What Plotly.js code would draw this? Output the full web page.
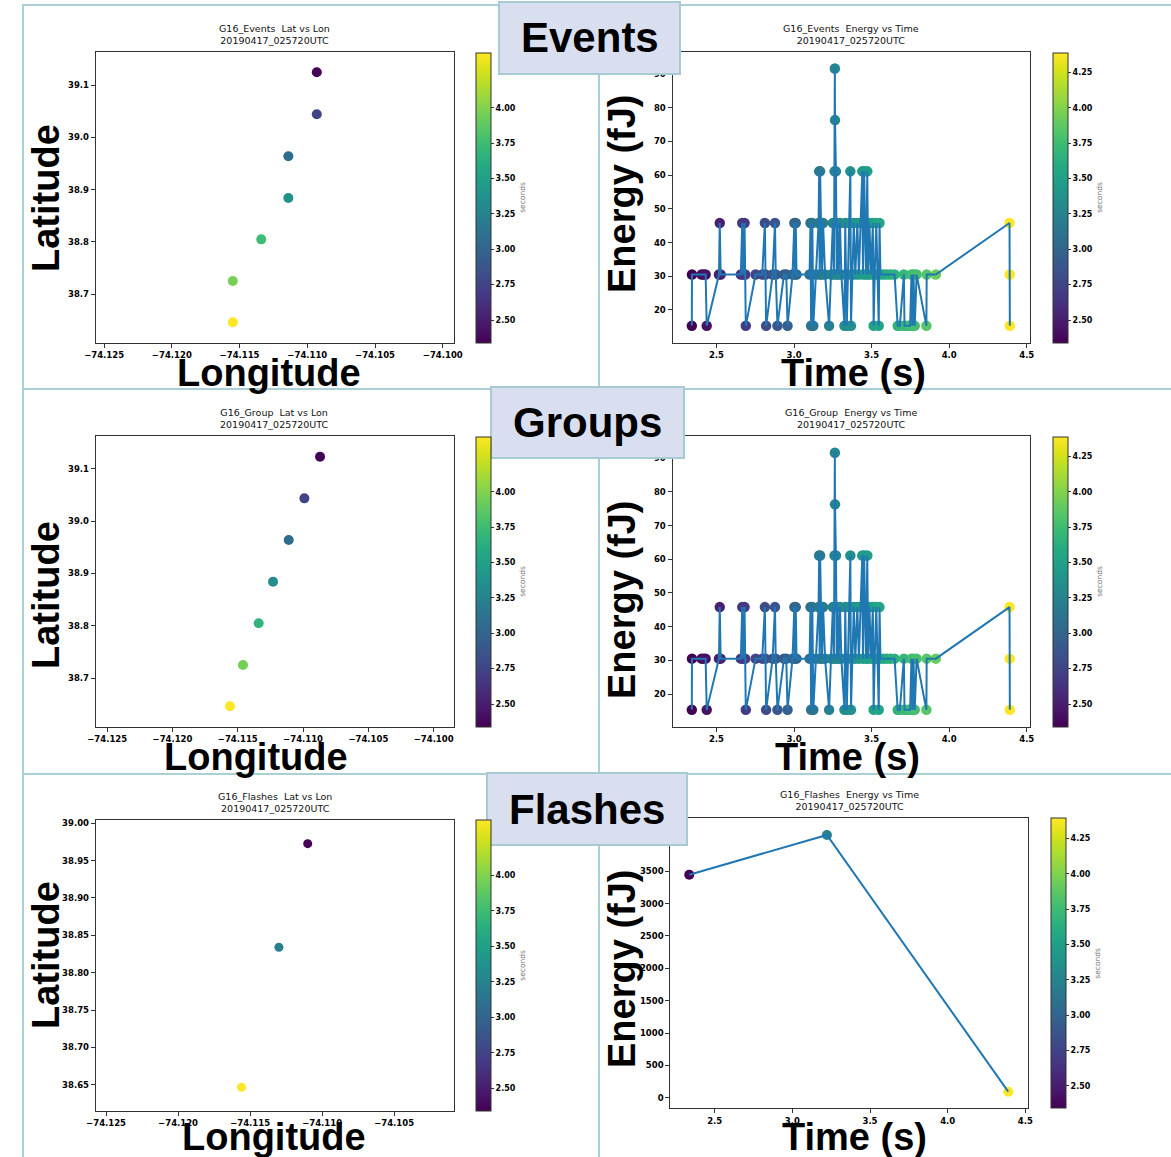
<!DOCTYPE html>
<html>
<head>
<meta charset="utf-8">
<script src="https://cdn.plot.ly/plotly-3.0.1.min.js"></script>
<style>html,body{margin:0;padding:0;background:#fff;}#chart{width:1171px;height:1157px;}</style>
</head>
<body>
<div id="chart"></div>
<script>
// ---------------- DATA ----------------
const stamp = "20190417_025720UTC";

// Events: latitude / longitude (colour = time in seconds)
const eventLon = [-74.1093, -74.1093, -74.1114, -74.1114, -74.1134, -74.1155, -74.1155];
const eventLat = [39.1243, 39.0440, 38.9637, 38.8840, 38.8050, 38.7254, 38.6465];
const eventLatLonTime = [2.36, 2.75, 3.06, 3.37, 3.75, 3.97, 4.39];

// Events: energy (fJ) vs time (s)
const eventTime = [2.341,2.342,2.404,2.418,2.430,2.437,2.516,2.521,2.527,2.657,2.666,2.672,2.681,2.685,2.689,
  2.752,2.795,2.812,2.816,2.820,2.862,2.877,2.882,2.893,2.935,2.950,2.958,2.990,3.002,3.006,3.011,3.016,
  3.100,3.106,3.110,3.118,3.124,3.140,3.158,3.162,3.165,3.168,3.172,3.180,3.187,3.200,3.226,3.240,3.250,
  3.257,3.261,3.263,3.264,3.270,3.275,3.280,3.288,3.296,3.305,3.325,3.330,3.340,3.346,3.355,3.363,3.367,
  3.374,3.385,3.395,3.408,3.418,3.428,3.440,3.444,3.452,3.457,3.464,3.472,3.478,3.486,3.496,3.508,3.513,
  3.520,3.530,3.538,3.546,3.551,3.557,3.578,3.600,3.622,3.648,3.668,3.682,3.708,3.712,3.732,3.748,3.757,
  3.763,3.770,3.778,3.790,3.853,3.855,3.914,4.389,4.390,4.391];
const eventEnergy = [15.3,30.5,30.5,30.5,30.5,15.3,30.5,45.8,30.5,30.5,45.8,30.5,45.8,30.5,15.3,
  30.5,30.5,45.8,30.5,15.3,30.5,45.8,30.5,15.3,30.5,30.5,15.3,30.5,45.8,30.5,45.8,30.5,
  30.5,45.8,15.3,45.8,15.3,30.5,45.8,61.1,30.5,61.1,45.8,30.5,45.8,30.5,15.3,30.5,45.8,
  30.5,61.1,91.6,76.3,61.1,30.5,45.8,30.5,45.8,30.5,15.3,45.8,15.3,30.5,45.8,61.1,15.3,
  30.5,45.8,30.5,45.8,30.5,45.8,61.1,30.5,61.1,45.8,30.5,61.1,30.5,45.8,30.5,45.8,15.3,
  30.5,45.8,30.5,15.3,45.8,30.5,30.5,30.5,30.5,30.5,15.3,15.3,30.5,15.3,15.3,15.3,30.5,
  15.3,30.5,15.3,30.5,15.3,30.5,30.5,45.8,30.5,15.3];

// Groups: latitude / longitude
const groupLon = [-74.1087, -74.1099, -74.1111, -74.1123, -74.1134, -74.1146, -74.1156];
const groupLat = [39.1230, 39.0434, 38.9637, 38.8840, 38.8046, 38.7249, 38.6460];
const groupLatLonTime = [2.34, 2.75, 3.06, 3.33, 3.68, 3.95, 4.39];

// Groups: energy vs time (same readings as events)
const groupTime = eventTime;
const groupEnergy = eventEnergy;

// Flashes
const flashLon = [-74.1110, -74.1130, -74.1156];
const flashLat = [38.9727, 38.8340, 38.6465];
const flashTime = [2.336, 3.2225, 4.390];
const flashEnergy = [3447, 4061, 93];

// tick labels
const lonTicks = [-74.125, -74.120, -74.115, -74.110, -74.105, -74.100];
const lonTicksFlash = [-74.125, -74.120, -74.115, -74.110, -74.105];
const latTicks = [38.7, 38.8, 38.9, 39.0, 39.1];
const latTicksFlash = [38.65, 38.70, 38.75, 38.80, 38.85, 38.90, 38.95, 39.00];
const timeTicks = [2.5, 3.0, 3.5, 4.0, 4.5];
const energyTicks = [20, 30, 40, 50, 60, 70, 80, 90];
const flashEnergyTicks = [0, 500, 1000, 1500, 2000, 2500, 3000, 3500];
const cbTicks = [2.50, 2.75, 3.00, 3.25, 3.50, 3.75, 4.00, 4.25];

// ---------------- LAYOUT HELPERS ----------------
const W = 1171, H = 1157;
const CMIN = 2.341, CMAX = 4.391;
const tickFont = {family: 'DejaVu Sans', size: 8.5, weight: 'bold', color: '#000'};
const px = v => v / W;
const py = v => 1 - v / H;

function axis(x0, x1, range, tickvals, fmt, anchor) {
  return {domain: [px(x0), px(x1)], range: range, anchor: anchor, tickvals: tickvals, tickformat: fmt,
    showline: true, mirror: true, linecolor: '#333', linewidth: 1, ticks: 'outside', ticklen: 4,
    tickcolor: '#333', showgrid: false, zeroline: false, tickfont: tickFont, fixedrange: true};
}
function yaxis(top, bot, range, tickvals, fmt, anchor) {
  const a = axis(0, 1, range, tickvals, fmt, anchor);
  a.domain = [py(bot), py(top)];
  return a;
}
function cbar(x0, top, bot, ticks) {
  return {x: px(x0), xanchor: 'left', y: py((top + bot) / 2), yanchor: 'middle',
    len: bot - top, lenmode: 'pixels', thickness: 15, thicknessmode: 'pixels', xpad: 0, ypad: 0,
    outlinewidth: 1, outlinecolor: '#333', ticks: 'outside', ticklen: 3, tickcolor: '#333',
    tickvals: ticks, tickformat: '.2f', tickfont: {family: 'DejaVu Sans', size: 8, weight: 'bold', color: '#000'},
    title: {text: 'seconds', side: 'right', font: {family: 'DejaVu Sans', size: 7.5, color: '#777'}}};
}
function markers(x, y, c, xa, ya, size, cb) {
  return {type: 'scatter', mode: 'markers', x: x, y: y, xaxis: xa, yaxis: ya, hoverinfo: 'skip', showlegend: false,
    marker: {color: c, colorscale: 'Viridis', cmin: CMIN, cmax: CMAX, size: size, line: {width: 0},
      showscale: true, colorbar: cb}};
}
function lineTrace(x, y, xa, ya) {
  return {type: 'scatter', mode: 'lines', x: x, y: y, xaxis: xa, yaxis: ya, hoverinfo: 'skip', showlegend: false,
    line: {color: '#1f77b4', width: 2}};
}

const cbLeft = cbTicks.slice(0, 7);

const data = [
  markers(eventLon, eventLat, eventLatLonTime, 'x', 'y', 10, cbar(476, 52.3, 342.7, cbLeft)),
  markers(eventTime, eventEnergy, eventTime, 'x2', 'y2', 10.5, cbar(1052.5, 52.3, 342.7, cbTicks)),
  lineTrace(eventTime, eventEnergy, 'x2', 'y2'),
  markers(groupLon, groupLat, groupLatLonTime, 'x3', 'y3', 10, cbar(476, 436.3, 726.7, cbLeft)),
  markers(groupTime, groupEnergy, groupTime, 'x4', 'y4', 10.5, cbar(1052.5, 436.3, 726.7, cbTicks)),
  lineTrace(groupTime, groupEnergy, 'x4', 'y4'),
  markers(flashLon, flashLat, flashTime, 'x5', 'y5', 9, cbar(476, 820, 1110.7, cbLeft)),
  markers(flashTime, flashEnergy, flashTime, 'x6', 'y6', 10, cbar(1050.5, 818.3, 1108.5, cbTicks)),
  lineTrace(flashTime, flashEnergy, 'x6', 'y6')
];

const layout = {
  width: W, height: H, margin: {l: 0, r: 0, t: 0, b: 0},
  paper_bgcolor: '#fff', plot_bgcolor: '#fff', showlegend: false,
  font: {family: 'DejaVu Sans', color: '#000'},
  xaxis: axis(95.7, 453.9, [-74.12562, -74.09918], lonTicks, '.3f', 'y'),
  yaxis: yaxis(52.3, 342.7, [38.6075, 39.1625], latTicks, '.1f', 'x'),
  xaxis2: axis(672.5, 1029.7, [2.2165, 4.519], timeTicks, '.1f', 'y2'),
  yaxis2: yaxis(52.3, 342.7, [10.3, 96.4], energyTicks, 'd', 'x2'),
  xaxis3: axis(95.7, 453.9, [-74.12588, -74.09845], lonTicks, '.3f', 'y3'),
  yaxis3: yaxis(436.3, 726.7, [38.607, 39.162], latTicks, '.1f', 'x3'),
  xaxis4: axis(672.5, 1029.7, [2.2165, 4.519], timeTicks, '.1f', 'y4'),
  yaxis4: yaxis(436.3, 726.7, [10.3, 96.5], energyTicks, 'd', 'x4'),
  xaxis5: axis(95.7, 453.9, [-74.12572, -74.10085], lonTicksFlash, '.3f', 'y5'),
  yaxis5: yaxis(820, 1110.7, [38.6152, 39.0044], latTicksFlash, '.2f', 'x5'),
  xaxis6: axis(670.3, 1027.9, [2.2141, 4.5167], timeTicks, '.1f', 'y6'),
  yaxis6: yaxis(818.3, 1108.3, [-164, 4319], flashEnergyTicks, 'd', 'x6'),
  shapes: [],
  annotations: []
};

// panel border lines
const borderColor = '#a9cfd7';
[[22, 5, 1171, 5], [23, 5, 23, 1157], [599, 5, 599, 1157], [22, 389, 1171, 389], [22, 774, 1171, 774]].forEach(s => {
  layout.shapes.push({type: 'line', xref: 'paper', yref: 'paper', x0: px(s[0]), y0: py(s[1]), x1: px(s[2]), y1: py(s[3]),
    line: {color: borderColor, width: 2}, layer: 'below'});
});

// section title boxes
const boxes = [
  {t: 'Events', x0: 499, x1: 680, y0: 2, y1: 74},
  {t: 'Groups', x0: 491, x1: 684, y0: 387, y1: 458},
  {t: 'Flashes', x0: 487, x1: 687, y0: 773, y1: 845}
];
boxes.forEach(b => {
  layout.shapes.push({type: 'rect', xref: 'paper', yref: 'paper', x0: px(b.x0), x1: px(b.x1), y0: py(b.y1), y1: py(b.y0),
    fillcolor: '#dadff0', line: {color: '#a6cbd3', width: 2}, layer: 'above'});
  layout.annotations.push({xref: 'paper', yref: 'paper', x: px((b.x0 + b.x1) / 2), y: py((b.y0 + b.y1) / 2),
    xanchor: 'center', yanchor: 'middle', showarrow: false, text: b.t,
    font: {family: 'Liberation Sans', size: 42, weight: 'bold', color: '#000'}});
});

// subplot titles
const titles = [
  {t: 'G16_Events\u00a0 Lat vs Lon', x: 274.8, top: 52.3},
  {t: 'G16_Events\u00a0 Energy vs Time', x: 851, top: 52.3},
  {t: 'G16_Group\u00a0 Lat vs Lon', x: 274.8, top: 436.3},
  {t: 'G16_Group\u00a0 Energy vs Time', x: 851, top: 436.3},
  {t: 'G16_Flashes\u00a0 Lat vs Lon', x: 274.8, top: 820},
  {t: 'G16_Flashes\u00a0 Energy vs Time', x: 849, top: 818.3}
];
titles.forEach(s => {
  layout.annotations.push({xref: 'paper', yref: 'paper', x: px(s.x), y: py(s.top - 4), xanchor: 'center', yanchor: 'bottom',
    showarrow: false, text: s.t + '<br>' + stamp, font: {family: 'DejaVu Sans', size: 9.5, color: '#111'}});
});

// big axis labels
const bigFont = {family: 'Liberation Sans', size: 38, weight: 'bold', color: '#000'};
const bigLabels = [
  {t: 'Latitude', x: 46, y: 198, a: -90},
  {t: 'Latitude', x: 46, y: 595, a: -90},
  {t: 'Latitude', x: 46, y: 955, a: -90},
  {t: 'Longitude', x: 269, y: 373, a: 0},
  {t: 'Longitude', x: 256, y: 757, a: 0},
  {t: 'Longitude', x: 274, y: 1137, a: 0},
  {t: 'Energy (fJ)', x: 622, y: 194, a: -90},
  {t: 'Energy (fJ)', x: 622, y: 600, a: -90},
  {t: 'Energy (fJ)', x: 622, y: 969, a: -90},
  {t: 'Time (s)', x: 853, y: 373, a: 0},
  {t: 'Time (s)', x: 847, y: 757, a: 0},
  {t: 'Time (s)', x: 854, y: 1137, a: 0}
];
bigLabels.forEach(s => {
  layout.annotations.push({xref: 'paper', yref: 'paper', x: px(s.x), y: py(s.y), xanchor: 'center', yanchor: 'middle',
    showarrow: false, text: s.t, textangle: s.a, font: bigFont});
});

Plotly.newPlot('chart', data, layout, {staticPlot: true, displayModeBar: false});
</script>
</body>
</html>
